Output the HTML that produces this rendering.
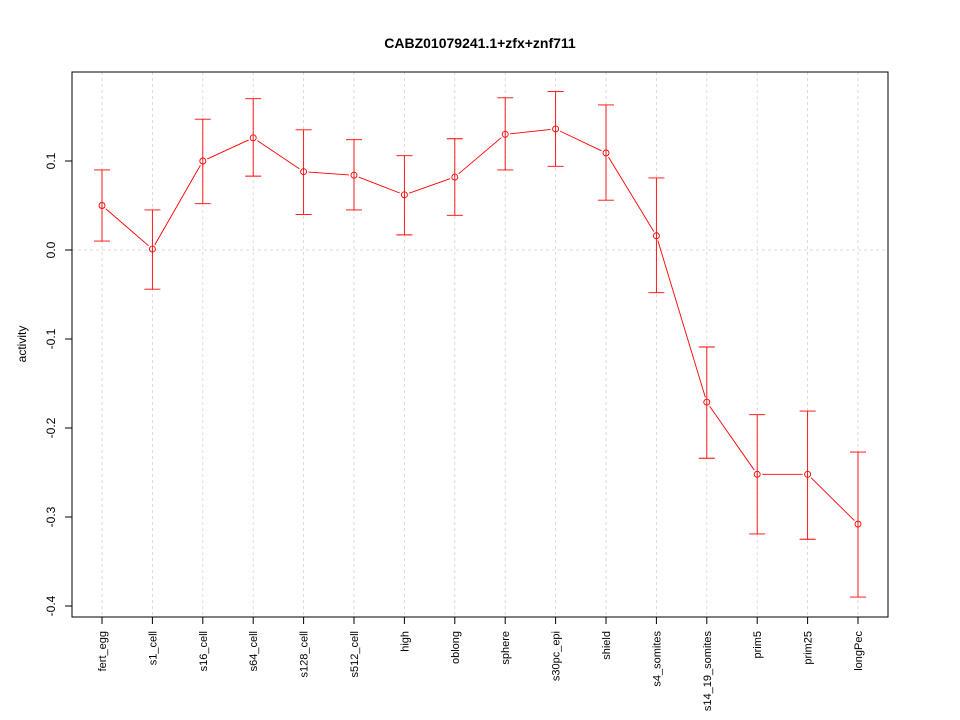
<!DOCTYPE html>
<html><head><meta charset="utf-8"><style>
body{margin:0;background:#fff;}
svg{display:block;font-family:"Liberation Sans",sans-serif;}
</style></head><body>
<svg id="chart" width="960" height="720">
<text x="480" y="48" text-anchor="middle" font-weight="bold" font-size="14">CABZ01079241.1+zfx+znf711</text>
<text transform="translate(26,344) rotate(-90)" text-anchor="middle" font-size="12">activity</text>
<g id="grid"></g><g id="yaxis"></g><g id="xaxis"></g><g id="series"></g>
<rect x="72" y="72" width="816" height="545" fill="none" stroke="#000"/>
</svg>
<script>
const categories=["fert_egg","s1_cell","s16_cell","s64_cell","s128_cell","s512_cell","high","oblong","sphere","s30pc_epi","shield","s4_somites","s14_19_somites","prim5","prim25","longPec"];
const values=[0.050,0.001,0.100,0.126,0.088,0.084,0.062,0.082,0.130,0.136,0.109,0.016,-0.171,-0.252,-0.252,-0.308];
const upper=[0.090,0.045,0.147,0.170,0.135,0.124,0.106,0.125,0.171,0.178,0.163,0.081,-0.109,-0.185,-0.181,-0.227];
const lower=[0.010,-0.044,0.052,0.083,0.040,0.045,0.017,0.039,0.090,0.094,0.056,-0.048,-0.234,-0.319,-0.325,-0.390];
const yTicks=[0.1,0.0,-0.1,-0.2,-0.3,-0.4];
const yTickLabels=["0.1","0.0","-0.1","-0.2","-0.3","-0.4"];
const NS="http://www.w3.org/2000/svg";
const xs=i=>102+i*(756/(categories.length-1));
const ys=v=>250-v*890;
function mk(tag,attrs,parent){const e=document.createElementNS(NS,tag);for(const k in attrs)e.setAttribute(k,attrs[k]);parent.appendChild(e);return e;}
const grid=document.getElementById('grid'),ya=document.getElementById('yaxis'),xa=document.getElementById('xaxis'),se=document.getElementById('series');
categories.forEach((c,i)=>{
 const g=mk('line',{x1:xs(i),x2:xs(i),y1:72,y2:617,stroke:'#d3d3d3','stroke-width':0.8,'stroke-dasharray':'3,3'},grid);
 
 
 const t=mk('line',{x1:xs(i),x2:xs(i),y1:617,y2:624,stroke:'#000'},xa);
 
 
 const l=mk('text',{transform:`translate(${xs(i)+4},631) rotate(-90)`,'text-anchor':'end','font-size':'11'},xa);
 l.textContent=c;
 
 
});
const z=mk('line',{x1:72,x2:888,y1:ys(0),y2:ys(0),stroke:'#d3d3d3','stroke-width':0.8,'stroke-dasharray':'3,3'},grid);


yTicks.forEach((v,i)=>{
 const t=mk('line',{x1:65,x2:72,y1:ys(v),y2:ys(v),stroke:'#000'},ya);
 
 
 const l=mk('text',{transform:`translate(55,${ys(v)}) rotate(-90)`,'text-anchor':'middle','font-size':'12'},ya);
 l.textContent=yTickLabels[i];
 
 
});
const gap=5;
for(let i=0;i<values.length-1;i++){
 const x1=xs(i),y1=ys(values[i]),x2=xs(i+1),y2=ys(values[i+1]);
 const d=Math.hypot(x2-x1,y2-y1);if(d<=2*gap)continue;
 const ux=(x2-x1)/d,uy=(y2-y1)/d;
 const s=mk('line',{x1:x1+ux*gap,y1:y1+uy*gap,x2:x2-ux*gap,y2:y2-uy*gap,stroke:'#f00','stroke-width':0.9},se);
 
 
}
values.forEach((v,i)=>{
 const x=xs(i);
 const e=mk('path',{d:`M${x},${ys(upper[i])}V${ys(lower[i])}M${x-8},${ys(upper[i])}H${x+8}M${x-8},${ys(lower[i])}H${x+8}`,stroke:'#f00','stroke-width':0.9,fill:'none'},se);
 
 
 const p=mk('circle',{cx:x,cy:ys(v),r:3,fill:'none',stroke:'#f00','stroke-width':0.9},se);
 
 
});
</script>
</body></html>
